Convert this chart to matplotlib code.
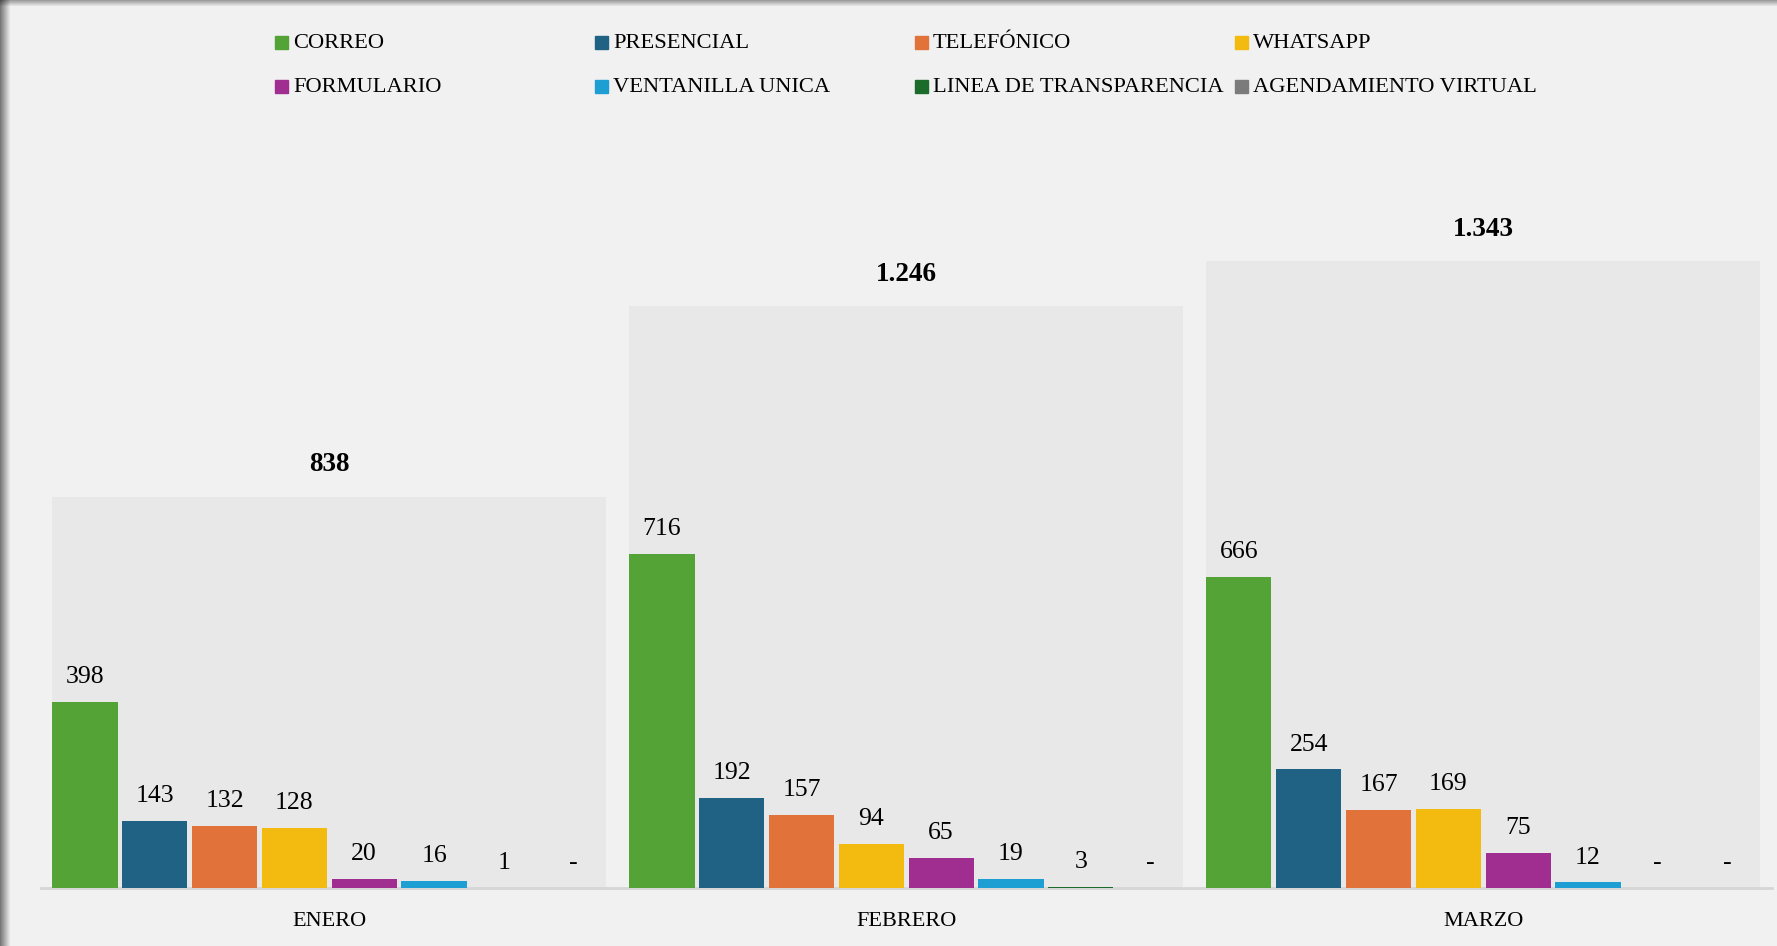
import numpy as np
import matplotlib
matplotlib.use('Agg')
import matplotlib.pyplot as plt
from matplotlib.patches import Rectangle

# data
months = ['ENERO', 'FEBRERO', 'MARZO']
channels = ['CORREO', 'PRESENCIAL', 'TELEFÓNICO', 'WHATSAPP',
            'FORMULARIO', 'VENTANILLA UNICA', 'LINEA DE TRANSPARENCIA',
            'AGENDAMIENTO VIRTUAL']
correo = [398, 716, 666]
presencial = [143, 192, 254]
telefonico = [132, 157, 167]
whatsapp = [128, 94, 169]
formulario = [20, 65, 75]
ventanilla = [16, 19, 12]
linea = [1, 3, 0]
agendamiento = [0, 0, 0]
totals = [838, 1246, 1343]

colors = ['#53a336', '#1f6283', '#e0723a', '#f3ba10',
          '#a02d90', '#1e9fd4', '#1b6b2b', '#7b7b7b']

series = [correo, presencial, telefonico, whatsapp,
          formulario, ventanilla, linea, agendamiento]


def fmt(v):
    if v == 0:
        return '-'
    return '{:,}'.format(v).replace(',', '.')


plt.rcParams['font.family'] = ['Liberation Serif', 'DejaVu Serif']

fig = plt.figure(figsize=(17.77, 9.46), dpi=100, facecolor='#f1f1f1')
ax = fig.add_axes([0.023, 0.0613, 0.974, 0.7896])
ax.set_facecolor('none')

x = np.arange(len(months))
slot = 0.121
width = 0.113
n = len(series)

# total bars (faint grey block behind each group)
ax.bar(x, totals, width=slot * n - (slot - width), color='black', alpha=0.035,
       zorder=1)
for xi, t in zip(x, totals):
    ax.annotate(fmt(t), (xi, t), xytext=(0, 14), textcoords='offset points',
                ha='center', va='bottom', fontsize=19.5, fontweight='bold')

for i, (vals, c) in enumerate(zip(series, colors)):
    pos = x + (i - (n - 1) / 2) * slot
    ax.bar(pos, vals, width=width, color=c, zorder=3)
    for p, v in zip(pos, vals):
        ax.annotate(fmt(v), (p, v), xytext=(0, 10), textcoords='offset points',
                    ha='center', va='bottom', fontsize=18.5)

ax.set_xlim(-0.5, 2.5)
ax.set_ylim(0, 1600)
ax.set_xticks(x)
ax.set_xticklabels(months, fontsize=16)
ax.tick_params(axis='x', length=0, pad=17)
ax.set_yticks([])
for s in ['top', 'right', 'left']:
    ax.spines[s].set_visible(False)
ax.spines['bottom'].set_color('#d6d6d6')
ax.spines['bottom'].set_linewidth(2)

# legend, fixed-width columns
W, H = 1777.0, 946.0
col_x = [275, 595, 915, 1235]
row_y = [43, 87]
sq = 13
for i, (name, c) in enumerate(zip(channels, colors)):
    cx = col_x[i % 4]
    cy = row_y[i // 4]
    fig.add_artist(Rectangle((cx / W, 1 - (cy + sq / 2) / H), sq / W, sq / H,
                             transform=fig.transFigure, color=c))
    fig.text((cx + sq + 5) / W, 1 - cy / H, name, fontsize=16.2,
             ha='left', va='center')

# frame shadow on left and top edge
for k in range(10):
    a = 0.5 * (1 - k / 10)
    fig.add_artist(Rectangle((k / W, 0), 1 / W, 1, transform=fig.transFigure,
                             color='black', alpha=a, lw=0))
for k in range(6):
    a = 0.35 * (1 - k / 6)
    fig.add_artist(Rectangle((0, 1 - (k + 1) / H), 1, 1 / H,
                             transform=fig.transFigure, color='black',
                             alpha=a, lw=0))

fig.savefig('out.png', dpi=100, facecolor=fig.get_facecolor())
